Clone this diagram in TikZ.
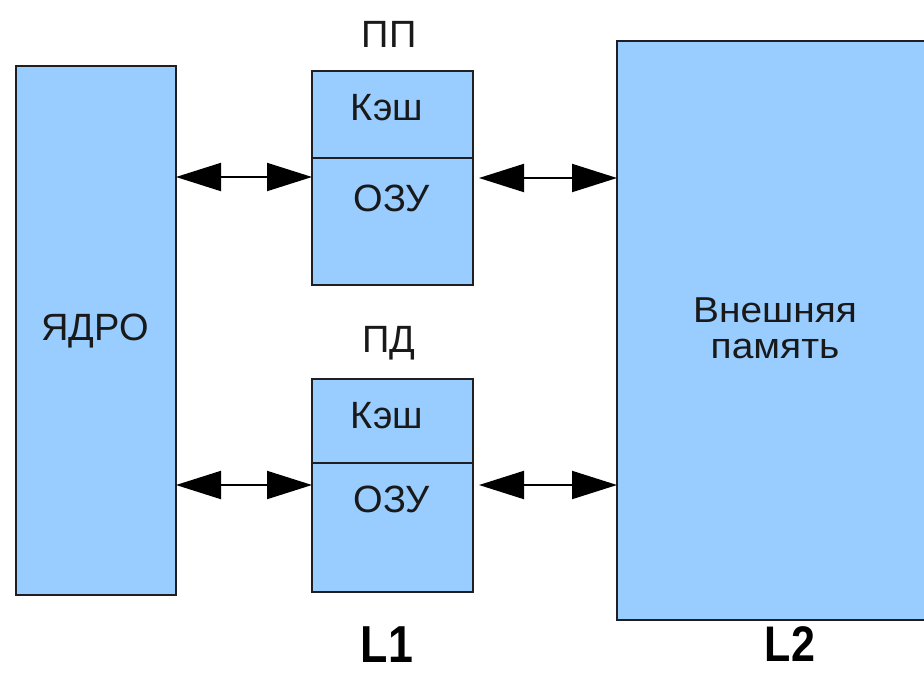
\documentclass[tikz,border=0pt]{standalone}
\usepackage{fontspec}
\setmainfont{Liberation Sans}
\newfontfamily\widefont{Liberation Sans}[FakeStretch=1.08]
\newfontfamily\levelfont{Liberation Sans}[FakeStretch=0.86]
\usetikzlibrary{arrows.meta}
\definecolor{boxblue}{RGB}{153,204,255}
\definecolor{edge}{RGB}{30,30,35}
\begin{document}
\begin{tikzpicture}[x=1pt,y=-1pt,
  blk/.style={draw=edge, fill=boxblue, line width=2.4pt, inner sep=0pt, outer sep=0pt},
  lbl/.style={font=\fontsize{38}{44}\selectfont, text=black!90, inner sep=0pt, anchor=base},
  biglbl/.style={font=\levelfont\bfseries\fontsize{52}{60}\selectfont, text=black, inner sep=0pt, anchor=base, text depth=0pt},
  link/.style={line width=2pt, draw=black, {Triangle[length=45pt,width=28pt]}-{Triangle[length=45pt,width=28pt]}}
]
\clip (0,0) rectangle (924,673);
\fill[white] (0,0) rectangle (924,673);
% boxes
\node[blk, minimum width=160pt, minimum height=529pt] (core) at (96,330.5) {};
\node[blk, minimum width=161pt, minimum height=87pt]  (ppc)  at (392.5,114.5) {};
\node[blk, minimum width=161pt, minimum height=127pt] (ppr)  at (392.5,221.5) {};
\node[blk, minimum width=161pt, minimum height=84pt]  (pdc)  at (392.5,421) {};
\node[blk, minimum width=161pt, minimum height=129pt] (pdr)  at (392.5,527.5) {};
\node[blk, minimum width=323pt, minimum height=579pt] (ext)  at (778.5,330.5) {};
% texts
\node[lbl] (tcore) at (95,340) {ЯДРО};
\node[lbl] (tpp)   at (389,47) {ПП};
\node[lbl] (tppc)  at (387,120) {Кэш};
\node[lbl] (tppr)  at (392,211) {ОЗУ};
\node[lbl] (tpd)   at (389,352) {ПД};
\node[lbl] (tpdc)  at (387,428) {Кэш};
\node[lbl] (tpdr)  at (392,512) {ОЗУ};
\node[lbl, font=\widefont\fontsize{36}{42}\selectfont] (text1) at (775,322) {Внешняя};
\node[lbl, font=\widefont\fontsize{36}{42}\selectfont] (text2) at (775,358) {память};
\node[biglbl] (tl1) at (387,662) {L1};
\node[biglbl, font=\levelfont\bfseries\fontsize{50}{58}\selectfont] (tl2) at (790,661) {L2};
% connectors
\coordinate (ya) at (0,177);
\coordinate (yb) at (0,178);
\coordinate (yc) at (0,485);
\draw[link] (core.east |- ya) -- (ppr.west |- ya);
\draw[link, shorten <=6pt] (ppr.east |- yb) -- (ext.west |- yb);
\draw[link] (core.east |- yc) -- (pdr.west |- yc);
\draw[link, shorten <=6pt] (pdr.east |- yc) -- (ext.west |- yc);
\end{tikzpicture}
\end{document}
